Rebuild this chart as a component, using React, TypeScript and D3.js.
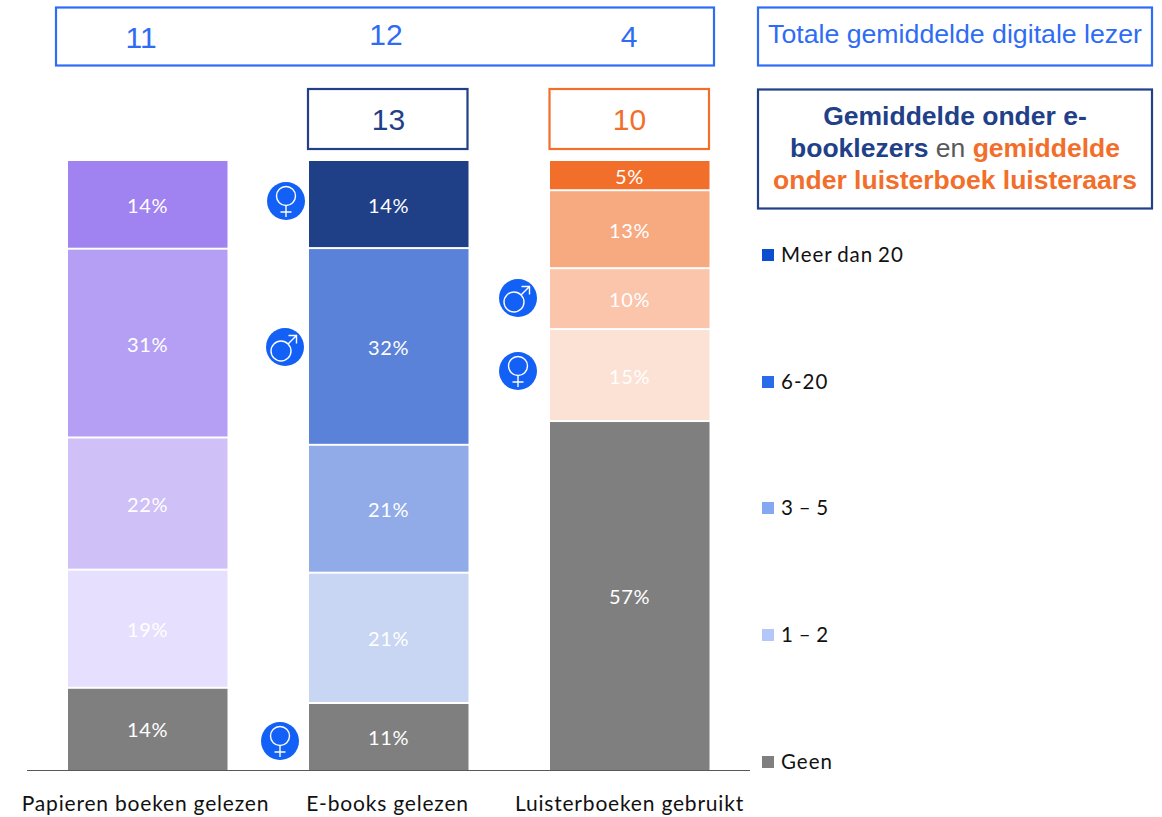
import React from "react";
import * as d3 from "d3";

const columns = ["Papieren boeken gelezen", "E-books gelezen", "Luisterboeken gebruikt"];
const legendLabels = ["Meer dan 20", "6-20", "3 – 5", "1 – 2", "Geen"];
const legendColors = ["#0b4fd0", "#2a6bea", "#86a8f2", "#b3c8f8", "#7f7f7f"];
const paperValues = [14.4, 31.0, 21.7, 19.4, 13.5];
const ebookValues = [14.3, 32.3, 21.0, 21.4, 11.0];
const audioValues = [4.8, 12.8, 10.0, 15.1, 57.3];
const paperColors = ["#a082f0", "#b59ff5", "#cfc0f8", "#e6dffd", "#7f7f7f"];
const ebookColors = ["#1f3f87", "#5a82d8", "#90abe8", "#c8d6f3", "#7f7f7f"];
const audioColors = ["#f26f2b", "#f7a97f", "#fac5aa", "#fce1d5", "#7f7f7f"];
const totals = ["11", "12", "4"];
const subAverages = ["", "13", "10"];
const icons = [
  { kind: "f", x: 286, y: 201 },
  { kind: "m", x: 285, y: 347 },
  { kind: "f", x: 280, y: 741 },
  { kind: "m", x: 518, y: 298 },
  { kind: "f", x: 518, y: 371 },
];

const W = 1162, H = 817;
const LATO = "Lato, sans-serif";
const ARIAL = "'Liberation Sans', Arial, sans-serif";
const BLUE = "#2f6cf5", NAVY = "#214088", ORANGE = "#f26f2b";

const y = d3.scaleLinear().domain([0, 100]).range([770, 161]);
const xCenters = d3.scalePoint<number>().domain([0, 1, 2]).range([147.5, 629.5]);
const barW = 160;
const fmt = (v: number) => `${Math.round(v)}%`;

function Gender({ kind, x, y }: { kind: string; x: number; y: number }) {
  const s = { fill: "none", stroke: "#fff", strokeWidth: 1.4 };
  return (
    <g transform={`translate(${x},${y})`}>
      <circle r={19} fill="#1260f5" />
      {kind === "f" ? (
        <g {...s}>
          <circle cy={-5} r={9.5} />
          <path d="M0,4.5V16M-5.5,11H5.5" />
        </g>
      ) : (
        <g {...s}>
          <circle cx={-4} cy={4} r={10} />
          <path d="M3,-3L11,-11M3.5,-11.5H11.5V-3.5" />
        </g>
      )}
    </g>
  );
}

export default function App() {
  const series = [paperValues, ebookValues, audioValues];
  const colors = [paperColors, ebookColors, audioColors];
  return (
    <svg width={W} height={H} viewBox={`0 0 ${W} ${H}`} style={{ position: "absolute", left: 0, top: 0, display: "block", background: "#fff" }}>
      <rect x={56} y={7.5} width={658} height={58} fill="#fff" stroke={BLUE} strokeWidth={2.2} />
      {totals.map((t, i) => (
        <text key={t} x={[141, 386, 629][i]} y={[48, 45, 47][i]} textAnchor="middle" fontFamily={ARIAL} fontSize={30} fill={BLUE}>{t}</text>
      ))}
      <rect x={758} y={7.5} width={394} height={58} fill="#fff" stroke={BLUE} strokeWidth={2.2} />
      <text x={955} y={43} textAnchor="middle" fontFamily={ARIAL} fontSize={26.7} fill={BLUE}>Totale gemiddelde digitale lezer</text>
      <rect x={758} y={89.5} width={394} height={119} fill="#fff" stroke={NAVY} strokeWidth={2.2} />
      <g fontFamily={ARIAL} fontSize={26.5} fontWeight={700} textAnchor="middle">
        <text x={955} y={125} fill={NAVY}>Gemiddelde onder e-</text>
        <text x={955} y={157}>
          <tspan fill={NAVY}>booklezers</tspan>
          <tspan fill="#595959" fontWeight={400}> en </tspan>
          <tspan fill={ORANGE}>gemiddelde</tspan>
        </text>
        <text x={955} y={189} fill={ORANGE}>onder luisterboek luisteraars</text>
      </g>
      {subAverages.map((t, i) => t && (
        <g key={t}>
          <rect x={[0, 308, 549.5][i]} y={89} width={159.5} height={60} fill="#fff" stroke={i === 1 ? NAVY : ORANGE} strokeWidth={2.2} />
          <text x={xCenters(i)!} y={130} textAnchor="middle" fontFamily={ARIAL} fontSize={30} fill={i === 1 ? NAVY : ORANGE}>{t}</text>
        </g>
      ))}
      {series.map((vals, i) => {
        let top = 100;
        return (
          <g key={columns[i]}>
            {vals.map((v, j) => {
              const yTop = y(top);
              const yBot = y(top - v);
              top -= v;
              const r0 = yTop + (j ? 1 : 0);
              const r1 = yBot - (j < vals.length - 1 ? 1 : 0);
              return (
                <g key={j}>
                  <rect x={xCenters(i)! - barW / 2 + 0.5} y={r0} width={barW - 0.5} height={r1 - r0} fill={colors[i][j]} />
                  <text x={xCenters(i)!} y={(yTop + yBot) / 2 + 8.5} textAnchor="middle" fontFamily={LATO} fontSize={20} letterSpacing={0.6} fill="#fff">{fmt(v)}</text>
                </g>
              );
            })}
            <text x={[145.5, 387.5, 629.5][i]} y={811} textAnchor="middle" fontFamily={LATO} fontSize={21} letterSpacing={0.8} fill="#111">{columns[i]}</text>
          </g>
        );
      })}
      <line x1={27} x2={750} y1={770.5} y2={770.5} stroke="#595959" strokeWidth={1.2} />
      {legendLabels.map((l, i) => {
        const ly = [255, 382, 508, 635, 762][i];
        return (
          <g key={l}>
            <rect x={762} y={ly - 6} width={12} height={12} fill={legendColors[i]} />
            <text x={781} y={ly + 7} fontFamily={LATO} fontSize={20.5} letterSpacing={1} wordSpacing={-1.5} fill="#111">{l}</text>
          </g>
        );
      })}
      {icons.map((ic, i) => <Gender key={i} {...ic} />)}
    </svg>
  );
}
